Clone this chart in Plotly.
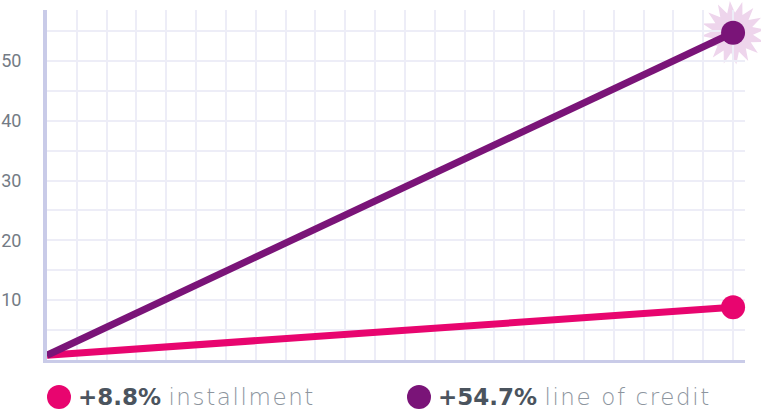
import math
import plotly.graph_objects as go

# ---- data ----
periods = [0, 23]
installment = [0.8, 8.8]
line_of_credit = [0.8, 54.7]
series_names = ["installment", "line of credit"]
series_labels = ["+8.8%", "+54.7%"]
y_tick_vals = [10, 20, 30, 40, 50]
y_tick_text = ["10", "20", "30", "40", "50"]

PINK = "#e8056f"
PURPLE = "#7a1478"
AXIS = "#c9cbe8"
GRID = "#ededf7"

X_RANGE = [0, 23.4]
Y_RANGE = [0, 58.5]

fig = go.Figure()

# starburst behind the line-of-credit end point (paper coords so it isn't clipped)
n_spikes = 16
r_out, r_in = 32, 20
pts = []
for i in range(2 * n_spikes):
    r = r_out if i % 2 == 0 else r_in
    a = math.pi * i / n_spikes + 0.1
    pts.append(f"{r*math.cos(a):.2f},{r*math.sin(a):.2f}")
star_path = "M " + " L ".join(pts) + " Z"
fig.add_shape(
    type="path", xref="paper", yref="paper",
    xsizemode="pixel", ysizemode="pixel",
    xanchor=(periods[-1] - X_RANGE[0]) / (X_RANGE[1] - X_RANGE[0]),
    yanchor=(line_of_credit[-1] - Y_RANGE[0]) / (Y_RANGE[1] - Y_RANGE[0]),
    path=star_path, fillcolor="#eed5ec", line=dict(width=0),
    layer="between",
)

for vals, color in [(installment, PINK), (line_of_credit, PURPLE)]:
    fig.add_trace(go.Scatter(
        x=periods, y=vals, mode="lines",
        line=dict(color=color, width=7),
        showlegend=False, hoverinfo="skip", cliponaxis=False,
    ))
    fig.add_trace(go.Scatter(
        x=periods[-1:], y=vals[-1:], mode="markers",
        marker=dict(color=color, size=24),
        showlegend=False, hoverinfo="skip", cliponaxis=False,
    ))

# custom legend
legend_pos = [47, 407]
plot_w = 761 - 47 - 16
for (px, lab, name, color) in zip(legend_pos, series_labels, series_names, [PINK, PURPLE]):
    xp = (px - 47) / plot_w
    fig.add_shape(
        type="circle", xref="paper", yref="paper",
        xsizemode="pixel", ysizemode="pixel",
        xanchor=xp, yanchor=-0.106,
        x0=0, x1=24, y0=-12, y1=12,
        fillcolor=color, line=dict(width=0),
    )
    fig.add_annotation(
        xref="paper", yref="paper", x=xp, y=-0.106, xshift=29,
        xanchor="left", yanchor="middle", showarrow=False,
        text=(f"<b>{lab}</b> <span style='font-weight:200;letter-spacing:1.6px;"
              f"color:#8d959e'>{name}</span>"),
        font=dict(family="DejaVu Sans", size=23, color="#4b545e"),
    )

fig.update_xaxes(
    range=X_RANGE, dtick=1, tick0=0, showgrid=True, gridcolor=GRID, gridwidth=1.5,
    showline=True, linecolor=AXIS, linewidth=3, showticklabels=False,
    zeroline=False, ticks="", automargin=False,
)
fig.update_yaxes(
    range=Y_RANGE, tickvals=y_tick_vals, ticktext=y_tick_text,
    showgrid=True, gridcolor=GRID, gridwidth=1.5,
    minor=dict(dtick=5, tick0=0, showgrid=True, gridcolor=GRID, gridwidth=1.5),
    showline=True, linecolor=AXIS, linewidth=4, zeroline=False, ticks="",
    ticklabelstandoff=18, automargin=False,
    tickfont=dict(family="Roboto", size=18, color="#737b85"),
)
fig.update_layout(
    width=761, height=419,
    margin=dict(l=47, r=16, t=10, b=59, autoexpand=False),
    plot_bgcolor="white", paper_bgcolor="white",
    showlegend=False,
)
fig.write_html("out.html", config={"displayModeBar": False},
               post_script="document.body.style.margin='0';")
